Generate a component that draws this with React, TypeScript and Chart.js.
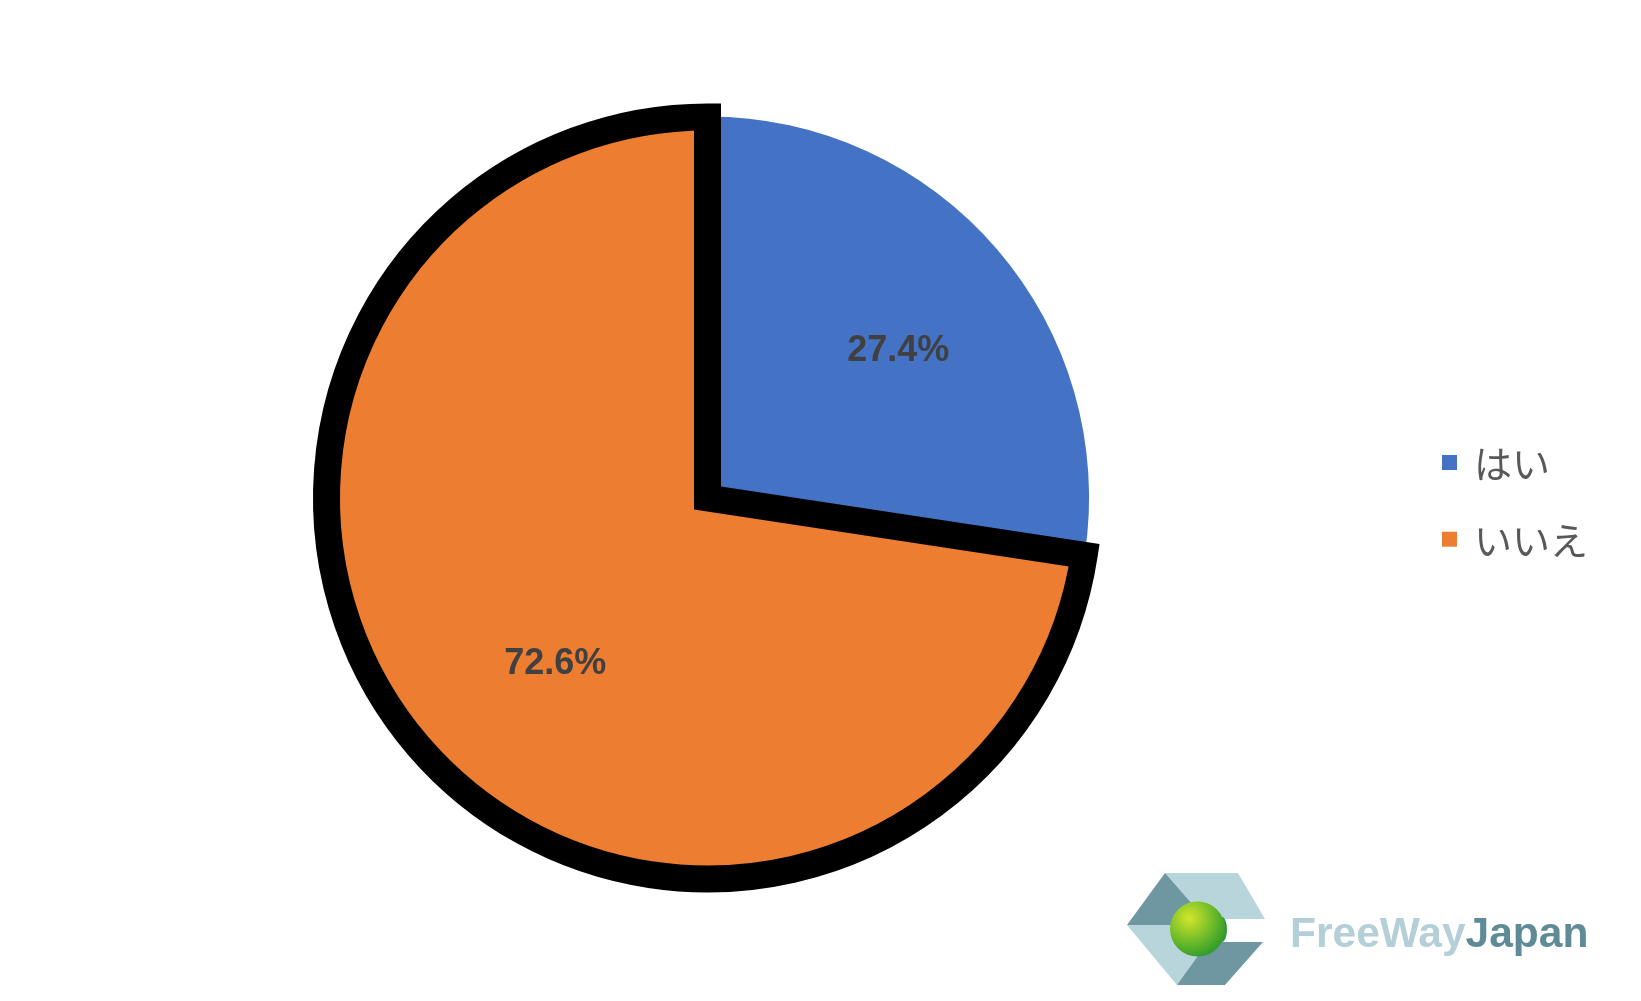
import { useEffect, useRef } from "react";
import { Chart, registerables } from "chart.js";

Chart.register(...registerables);

// ---- data ----
const categories = ["はい", "いいえ"];
const values = [27.4, 72.6];
const valueLabels = ["27.4%", "72.6%"];
const sliceColors = ["#4472C4", "#ED7D31"];
const sliceBorderColors = ["#4472C4", "#000000"];
const sliceBorderWidths = [0, 27];
const sliceOffsets = [3, 0];

const W = 1641;
const H = 1001;

const sliceLabelPlugin = {
  id: "sliceLabels",
  afterDatasetsDraw(chart: any, _args: any, opts: any) {
    const meta = chart.getDatasetMeta(0);
    const ctx = chart.ctx;
    ctx.save();
    ctx.font = `bold ${opts.size}px "Liberation Sans", Arial, sans-serif`;
    ctx.fillStyle = opts.color;
    ctx.textAlign = "center";
    ctx.textBaseline = "alphabetic";
    meta.data.forEach((arc: any, i: number) => {
      const { x, y, startAngle, endAngle, outerRadius } = arc.getProps(
        ["x", "y", "startAngle", "endAngle", "outerRadius"],
        true
      );
      const p = opts.placement[i];
      const a = (startAngle + endAngle) / 2 + (p.shiftDeg * Math.PI) / 180;
      const d = outerRadius * p.frac;
      ctx.fillText(
        valueLabels[i],
        x + Math.cos(a) * d,
        y + Math.sin(a) * d + opts.size * 0.358
      );
    });
    ctx.restore();
  },
};

const sideLegendPlugin = {
  id: "sideLegend",
  afterDraw(chart: any, _args: any, opts: any) {
    const ctx = chart.ctx;
    ctx.save();
    ctx.font = `400 ${opts.size}px "Noto Sans CJK JP", sans-serif`;
    ctx.textAlign = "left";
    ctx.textBaseline = "middle";
    categories.forEach((c, i) => {
      const cy = opts.y + i * opts.gap;
      ctx.fillStyle = sliceColors[i];
      ctx.fillRect(opts.x, cy - opts.box / 2, opts.box, opts.box);
      ctx.fillStyle = opts.color;
      ctx.fillText(c, opts.textX, cy + 1);
    });
    ctx.restore();
  },
};

function Logo() {
  return (
    <svg
      width={490}
      height={135}
      viewBox="1110 860 490 135"
      style={{ position: "absolute", left: 1110, top: 860 }}
    >
      <defs>
        <radialGradient id="ball" cx="0.35" cy="0.3" r="0.75">
          <stop offset="0" stopColor="#d4e62a" />
          <stop offset="0.5" stopColor="#7cc22a" />
          <stop offset="1" stopColor="#2e9a2a" />
        </radialGradient>
      </defs>
      {/* upper-left dark */}
      <polygon points="1165,873 1127,925 1178,925 1202,905" fill="#6f97a1" />
      {/* top light */}
      <polygon points="1165,873 1238,873 1265,919 1205,919" fill="#b9d5dc" />
      {/* lower-left light */}
      <polygon points="1127,925 1178,925 1206,956 1177,985" fill="#b9d5dc" />
      {/* lower-right dark */}
      <polygon points="1177,985 1225,985 1263,942 1208,942" fill="#6f97a1" />
      {/* green cylinder */}
      <rect x={1198} y={917} width={24} height={25} fill="#2f9a35" />
      <ellipse cx={1222} cy={929.5} rx={5} ry={12.5} fill="#2f9a35" />
      <circle cx={1197.5} cy={929} r={27.5} fill="url(#ball)" />
      <text
        x={1290}
        y={947}
        fontFamily='"Liberation Sans", Arial, sans-serif'
        fontWeight="bold"
        fontSize={42.5}
      >
        <tspan fill="#b4cfd7">FreeWay</tspan>
        <tspan fill="#5f8b97">Japan</tspan>
      </text>
    </svg>
  );
}

export default function App() {
  const ref = useRef<HTMLCanvasElement | null>(null);

  useEffect(() => {
    if (!ref.current) return;
    const chart = new Chart(ref.current, {
      type: "pie",
      data: {
        labels: categories,
        datasets: [
          {
            data: values,
            backgroundColor: sliceColors,
            borderColor: sliceBorderColors,
            borderWidth: sliceBorderWidths,
            borderJoinStyle: "miter",
            offset: sliceOffsets,
            radius: 381,
          } as any,
        ],
      },
      options: {
        animation: false,
        responsive: false,
        layout: { padding: { left: 0, top: 0, right: W - 1415, bottom: H - 996 } },
        plugins: {
          legend: { display: false },
          tooltip: { enabled: false },
          sliceLabels: {
            size: 36,
            color: "#404040",
            placement: [
              { frac: 0.637, shiftDeg: 2.5 },
              { frac: 0.586, shiftDeg: -6.3 },
            ],
          },
          sideLegend: {
            x: 1442,
            y: 462.5,
            gap: 76.7,
            box: 15,
            textX: 1474,
            size: 38,
            color: "#595959",
          },
        } as any,
      },
      plugins: [sliceLabelPlugin, sideLegendPlugin],
    });
    return () => chart.destroy();
  }, []);

  return (
    <div style={{ position: "fixed", left: 0, top: 0, width: W, height: H, background: "#fff" }}>
      <canvas ref={ref} width={W} height={H} style={{ width: W, height: H, display: "block" }} />
      <Logo />
    </div>
  );
}
